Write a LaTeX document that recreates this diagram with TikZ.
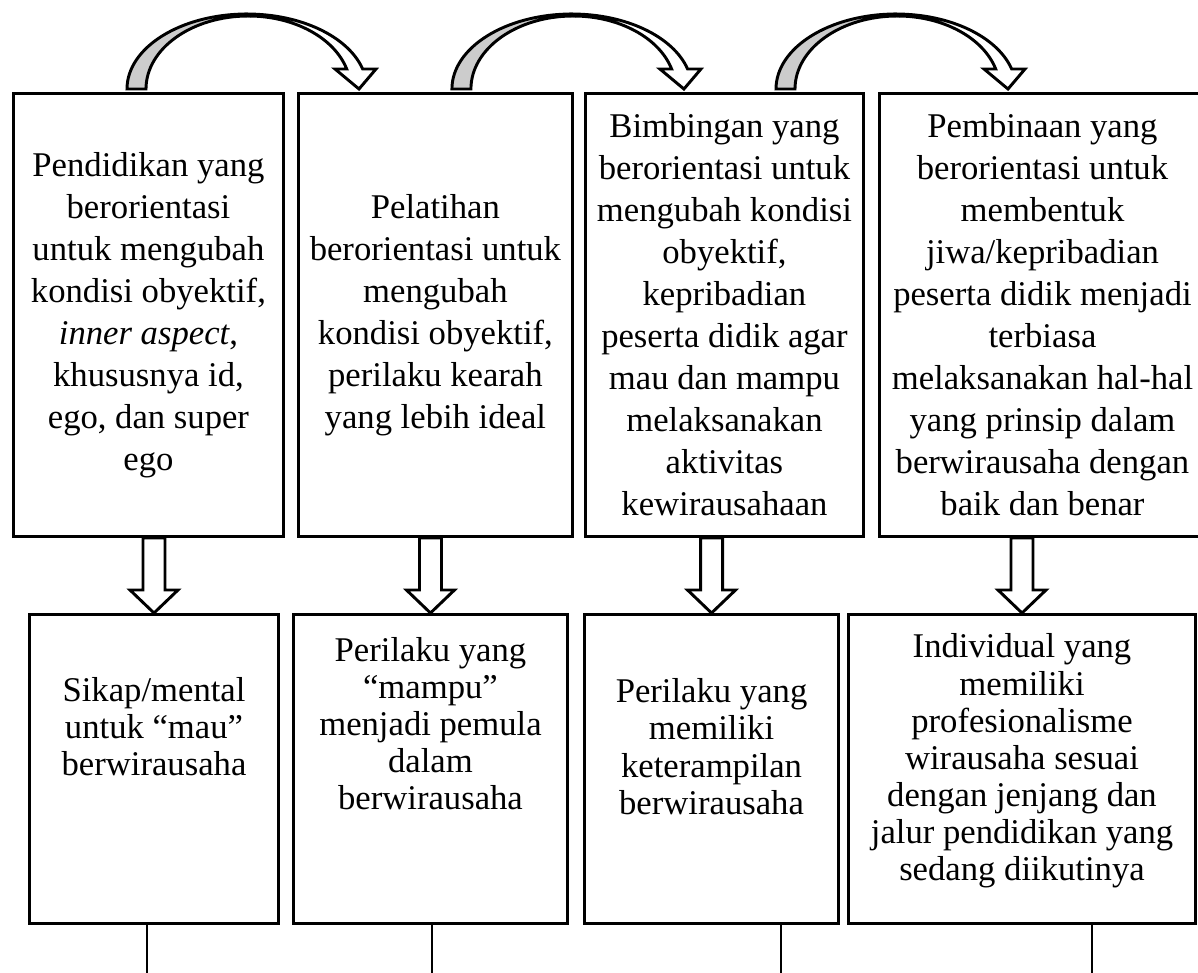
\documentclass[tikz,border=0pt]{standalone}
\usepackage{fontspec}
\setmainfont{Liberation Serif}
\usepackage{tikz}
\usetikzlibrary{positioning,calc}
\definecolor{backgray}{HTML}{CCCCCC}
\tikzset{
  topbox/.style={draw, line width=1.1pt, align=center, minimum height=166.1pt, font=\fontsize{13}{15.75}\selectfont},
  lowbox/.style={draw, line width=1.1pt, align=center, minimum height=115.9pt, font=\fontsize{13}{13.9}\selectfont},
  hollow/.style={draw, line width=1.1pt, fill=white},
  ribbon/.style={draw, line width=1.1pt, fill=white},
  leg/.style={draw, line width=0.5pt}
}

\begin{document}
\begin{tikzpicture}[x=0.375pt, y=-0.375pt]
  \useasboundingbox (0,0) rectangle (1198,972);

  \node[topbox, minimum width=101.25pt, anchor=north west] (t1) at (12,92) {Pendidikan yang\\berorientasi\\untuk mengubah\\kondisi obyektif,\\\textit{inner aspect},\\khususnya id,\\ego, dan super\\ego};
  \node[topbox, minimum width=102.75pt, right=4.5pt of t1] (t2) {Pelatihan\\berorientasi untuk\\mengubah\\kondisi obyektif,\\perilaku kearah\\yang lebih ideal};
  \node[topbox, minimum width=104.25pt, right=3.8pt of t2] (t3) {Bimbingan yang\\berorientasi untuk\\mengubah kondisi\\obyektif,\\kepribadian\\peserta didik agar\\mau dan mampu\\melaksanakan\\aktivitas\\kewirausahaan};
  \node[topbox, minimum width=122.25pt, right=4.9pt of t3] (t4) {Pembinaan yang\\berorientasi untuk\\membentuk\\jiwa/kepribadian\\peserta didik menjadi\\terbiasa\\melaksanakan hal-hal\\yang prinsip dalam\\berwirausaha dengan\\baik dan benar};

  \node[lowbox, minimum width=93.4pt, anchor=north west] (b1) at (28,613) {Sikap/mental\\untuk ``mau''\\berwirausaha\\[18pt]\mbox{}};
  \node[lowbox, minimum width=102.75pt, right=4.5pt of b1] (b2) {Perilaku yang\\``mampu''\\menjadi pemula\\dalam\\berwirausaha\\[20pt]\mbox{}};
  \node[lowbox, minimum width=95.25pt, right=5.3pt of b2] (b3) {Perilaku yang\\memiliki\\keterampilan\\berwirausaha\\[3pt]\mbox{}};
  \node[lowbox, minimum width=130.1pt, right=2.65pt of b3] (b4) {Individual yang\\memiliki\\profesionalisme\\wirausaha sesuai\\dengan jenjang dan\\jalur pendidikan yang\\sedang diikutinya\\[-5pt]\mbox{}};

  \foreach \from/\dx in {t1/115, t2/155, t3/192} {
    \begin{scope}[shift={($(\from.north west)+(\dx,-3)$)}]
      \draw[line width=1.1pt, fill=backgray] (0,0) arc[start angle=180, end angle=270, x radius=120, y radius=75] -- (121.3,-73) arc[start angle=270, end angle=180, x radius=102.3, y radius=73] -- cycle;
      \draw[ribbon] (120,-75) arc[start angle=270, end angle=344.5, x radius=120, y radius=75] -- (249,-20) -- (232,0) -- (208,-20) -- (219.7,-20) arc[start angle=344.1, end angle=270, x radius=102.3, y radius=73] -- cycle;
    \end{scope}
  }

  \foreach \n in {1,...,4} {
    \draw[hollow] ($(b\n.north |- t\n.south)+(-11,0)$) -- ($(b\n.north)+(-11,-23)$) -- ++(-13,0) -- (b\n.north) -- ++(24,-23) -- ++(-13,0) -- ($(b\n.north |- t\n.south)+(11,0)$) -- cycle;
  }

  \coordinate (e1) at (147,980);
  \coordinate (e2) at (432,980);
  \coordinate (e3) at (781,980);
  \coordinate (e4) at (1092,980);
  \foreach \n in {1,...,4} {
    \draw[leg] (b\n.south -| e\n) -- (e\n);
  }
\end{tikzpicture}
\end{document}
